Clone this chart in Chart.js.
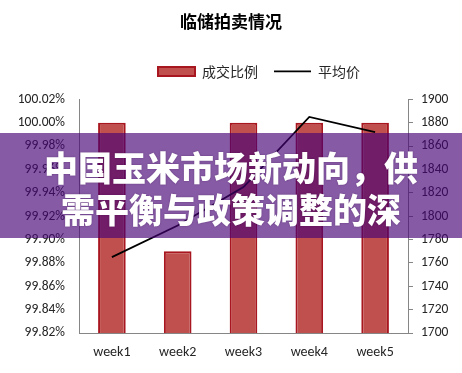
<!DOCTYPE html>
<html><head><meta charset="utf-8">
<script src="https://cdn.jsdelivr.net/npm/chart.js@4"></script>
<style>
html,body{margin:0;padding:0;background:#fff;}
#wrap{position:relative;width:462px;height:373px;overflow:hidden;background:#fff;}
#c{position:absolute;left:0;top:0;}
#banner{position:absolute;left:0;top:133px;width:462px;height:105px;background:rgba(71,2,117,0.65);color:#fff;font-family:"Noto Sans CJK SC",sans-serif;font-weight:900;font-size:34px;line-height:42px;text-align:center;padding-top:13px;box-sizing:border-box;white-space:nowrap;text-shadow:0 0 2px rgba(40,0,60,0.4);}
</style></head>
<body><div id="wrap"><canvas id="c" width="462" height="373"></canvas>
<div id="banner"><div>中国玉米市场新动向，供</div><div>需平衡与政策调整的深</div></div></div>
<script>
const chartTitle = '临储拍卖情况';
const categories = ['week1', 'week2', 'week3', 'week4', 'week5'];
const seriesNames = ['成交比例', '平均价'];
const dealRatio = [100.00, 99.89, 100.00, 100.00, 100.00];
const avgPrice = [1765, 1792, 1825, 1885, 1872];
const leftTicks = [99.82, 99.84, 99.86, 99.88, 99.90, 99.92, 99.94, 99.96, 99.98, 100.00, 100.02];
const rightTicks = [1700, 1720, 1740, 1760, 1780, 1800, 1820, 1840, 1860, 1880, 1900];

const axisGray = '#868686';
const labelColor = '#262626';
const latin = 'Carlito, Lato, "Liberation Sans", sans-serif';
const cjk = '"Noto Sans CJK SC", sans-serif';

const legendTweak = {
  id: 'legendTweak',
  afterInit(chart) {
    const lg = chart.legend;
    const f = lg.fit;
    lg.fit = function () { f.call(this); this.height += 11; };
  },
  afterLayout(chart) {
    chart.legend.left += 28;
    chart.legend.right += 28;
  }
};

new Chart(document.getElementById('c'), {
  data: {
    labels: categories,
    datasets: [
      {
        type: 'bar',
        label: seriesNames[0],
        data: dealRatio,
        yAxisID: 'y',
        backgroundColor: '#C0504D',
        borderColor: '#A8161F',
        borderWidth: 2,
        borderSkipped: false,
        barPercentage: 0.42,
        categoryPercentage: 1,
        pointStyle: 'rect',
        order: 1
      },
      {
        type: 'line',
        label: seriesNames[1],
        data: avgPrice,
        yAxisID: 'y1',
        borderColor: '#000',
        backgroundColor: '#000',
        borderWidth: 1.8,
        pointRadius: 0,
        pointStyle: 'line',
        tension: 0,
        order: 0
      }
    ]
  },
  options: {
    responsive: false,
    devicePixelRatio: 1,
    animation: false,
    layout: { padding: 0 },
    plugins: {
      title: {
        display: true,
        text: chartTitle,
        color: '#000',
        font: { family: cjk, size: 17, weight: 'bold' },
        padding: { top: 11, bottom: 17 }
      },
      legend: {
        position: 'top',
        labels: {
          usePointStyle: true,
          pointStyleWidth: 37,
          boxHeight: 9,
          padding: 16,
          color: labelColor,
          font: { family: cjk, size: 14 },
          sort: (a, b) => a.datasetIndex - b.datasetIndex
        }
      },
      tooltip: { enabled: false }
    },
    scales: {
      x: {
        offset: true,
        grid: { display: false, drawTicks: false },
        border: { display: true, color: axisGray, width: 1 },
        ticks: { color: labelColor, font: { family: latin, size: 14 }, padding: 11 },
        afterFit: s => { s.height = 40; }
      },
      y: {
        position: 'left',
        min: 99.82,
        max: 100.02,
        grid: { display: false, drawTicks: false },
        border: { display: true, color: axisGray, width: 1 },
        ticks: {
          color: labelColor,
          font: { family: latin, size: 13.5 },
          padding: 14,
          callback: v => Number(v).toFixed(2) + '%'
        },
        afterBuildTicks: a => { a.ticks = leftTicks.map(v => ({ value: v })); },
        afterFit: s => { s.width = 79; }
      },
      y1: {
        position: 'right',
        min: 1700,
        max: 1900,
        grid: { display: true, drawOnChartArea: false, drawTicks: true, tickLength: 5, color: axisGray },
        border: { display: true, color: axisGray, width: 1 },
        ticks: {
          color: labelColor,
          font: { family: latin, size: 13.5 },
          padding: 8,
          callback: v => String(v)
        },
        afterBuildTicks: a => { a.ticks = rightTicks.map(v => ({ value: v })); },
        afterFit: s => { s.width = 54; }
      }
    }
  },
  plugins: [legendTweak]
});
</script></body></html>
